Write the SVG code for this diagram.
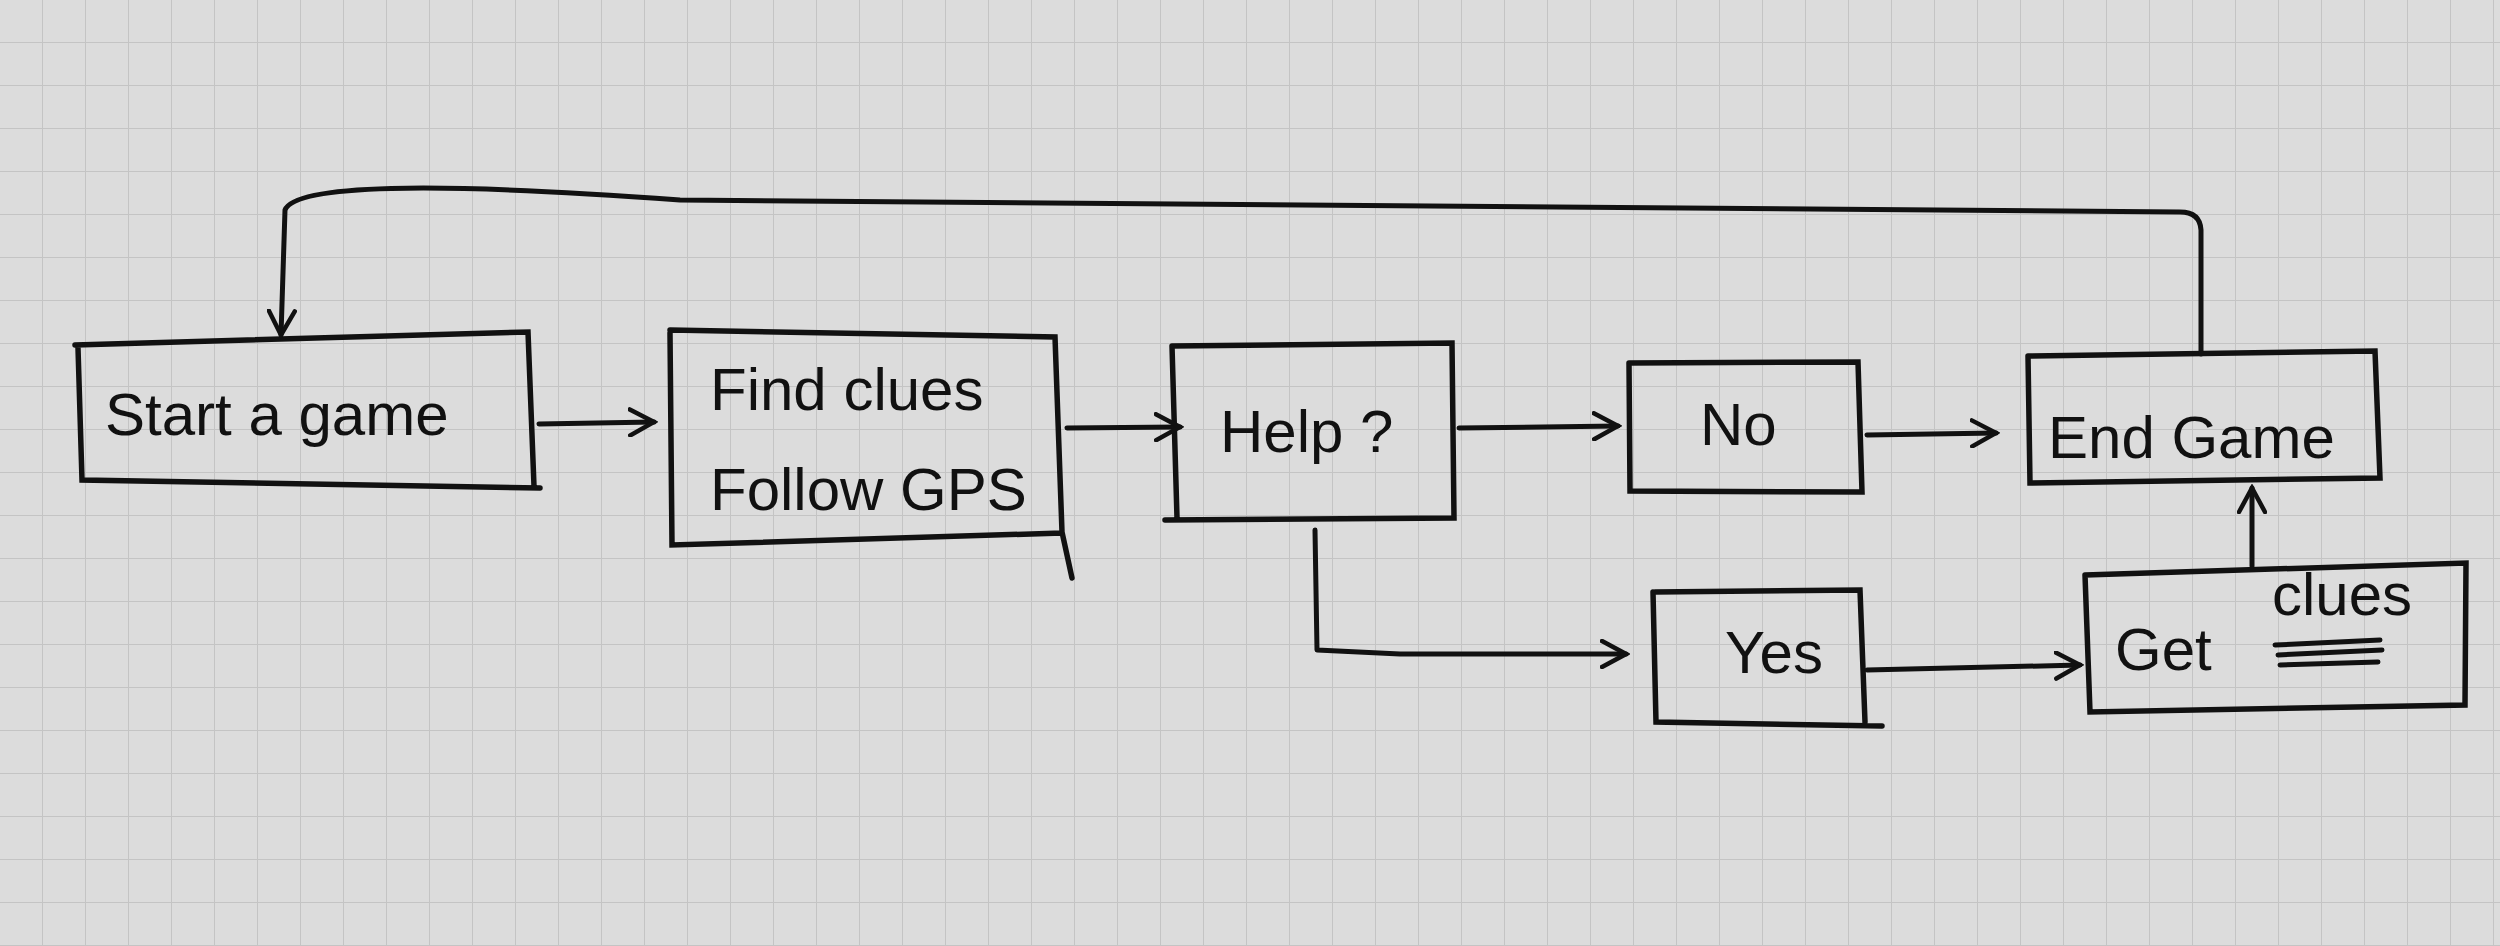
<svg xmlns="http://www.w3.org/2000/svg" width="2500" height="946" viewBox="0 0 2500 946">
<defs>
<pattern id="grid" width="43" height="43" patternUnits="userSpaceOnUse">
<path d="M43 0V43H0" fill="none" stroke="#c4c4c4" stroke-width="2"/>
</pattern>
<marker id="ah" markerWidth="30" markerHeight="30" refX="26" refY="15" orient="auto" markerUnits="userSpaceOnUse">
<path d="M2 2L26 15L2 28" fill="none" stroke="#111" stroke-width="4.5" stroke-linecap="round"/>
</marker>
</defs>
<style>
.box{fill:none;stroke:#111;stroke-width:5.5;stroke-linecap:round}
.c{fill:none;stroke:#111;stroke-width:5;stroke-linecap:round;stroke-linejoin:round}
text{font-family:"Liberation Sans",sans-serif;font-size:60px;fill:#111}
</style>
<rect width="2500" height="946" fill="#dcdcdc"/>
<rect width="2500" height="946" fill="url(#grid)"/>
<g id="start"><path class="box" d="M75 345L528 332L534 486M78 348L82 480L540 488"/><text x="105" y="435">Start a game</text></g>
<g id="find"><path class="box" d="M670 330L1055 337L1062 532L1072 578M670 333L672 545L1062 533"/><text x="710" y="410">Find clues</text><text x="710" y="510">Follow GPS</text></g>
<g id="help"><path class="box" d="M1172 346L1452 343L1454 518L1165 520M1172 346L1177 518"/><text x="1220" y="452">Help ?</text></g>
<g id="no"><path class="box" d="M1629 363L1858 362L1862 492L1630 491L1629 363"/><text x="1700" y="445">No</text></g>
<g id="end"><path class="box" d="M2028 356L2375 351L2380 478L2030 483L2028 356"/><text x="2048" y="458">End Game</text></g>
<g id="yes"><path class="box" d="M1655 592L1860 590L1865 722M1653 592L1656 722L1882 726"/><text x="1725" y="673">Yes</text></g>
<g id="get"><path class="box" d="M2085 575L2466 563L2465 705L2090 712L2085 575"/><text x="2115" y="670">Get</text><text x="2272" y="615">clues</text><path class="c" d="M2275 645L2380 640M2278 655L2382 650M2280 665L2378 662"/></g>
<g id="connectors">
<path class="c" marker-end="url(#ah)" d="M539 424L654 422"/>
<path class="c" marker-end="url(#ah)" d="M1067 428L1180 427"/>
<path class="c" marker-end="url(#ah)" d="M1459 428L1618 426"/>
<path class="c" marker-end="url(#ah)" d="M1867 435L1996 433"/>
<path class="c" marker-end="url(#ah)" d="M1315 530L1317 650L1400 654L1626 654"/>
<path class="c" marker-end="url(#ah)" d="M1867 670L2080 665"/>
<path class="c" marker-end="url(#ah)" d="M2252 566L2252 488"/>
<path class="c" marker-end="url(#ah)" d="M2201 354L2201 230Q2200 212 2180 212L680 200Q300 172 285 210L281 335"/>
</g>
</svg>
